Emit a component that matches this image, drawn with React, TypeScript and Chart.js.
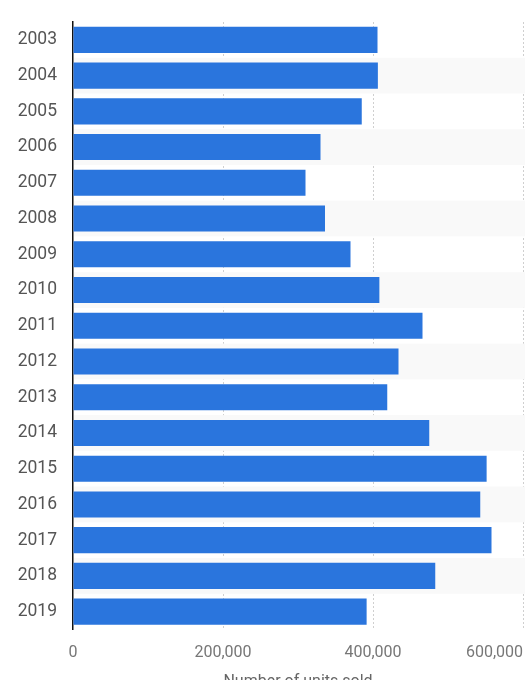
import React, { useEffect, useRef } from "react";
import { Chart, registerables } from "chart.js";

Chart.register(...registerables);

const years = ["2003","2004","2005","2006","2007","2008","2009","2010","2011","2012","2013","2014","2015","2016","2017","2018","2019"];
const unitsSold = [406000, 406500, 385000, 330000, 310000, 336000, 370000, 408500, 466000, 434000, 419000, 475000, 551500, 543000, 558000, 483000, 391500];
const xTicks = [0, 200000, 400000, 600000];
const axisTitle = "Number of units sold";

const W = 517;
const H = 672;

const bandPlugin = {
  id: "bands",
  beforeDatasetsDraw(chart: any) {
    const { ctx, chartArea, scales } = chart;
    const y = scales.y;
    const n = years.length;
    const step = (chartArea.bottom - chartArea.top) / n;
    ctx.save();
    ctx.fillStyle = "#f9f9f9";
    for (let i = 1; i < n; i += 2) {
      const c = y.getPixelForValue(i);
      ctx.fillRect(chartArea.left + 1, c - step / 2, chart.width - chartArea.left, step);
    }
    ctx.restore();
  },
};

const xLabelPlugin = {
  id: "xlabels",
  afterDraw(chart: any) {
    const { ctx, chartArea, scales } = chart;
    const x = scales.x;
    ctx.save();
    ctx.fillStyle = "#777";
    ctx.font = "16px Roboto";
    ctx.textBaseline = "middle";
    xTicks.forEach((v, i) => {
      const px = x.getPixelForValue(v);
      ctx.textAlign = i === xTicks.length - 1 ? "right" : "center";
      ctx.fillText(v.toLocaleString("en-US"), px, chartArea.bottom + 23.5);
    });
    ctx.restore();
  },
};

export default function App() {
  const ref = useRef<HTMLCanvasElement | null>(null);
  useEffect(() => {
    if (!ref.current) return;
    const chart = new Chart(ref.current, {
      type: "bar",
      data: {
        labels: years,
        datasets: [
          {
            data: unitsSold,
            backgroundColor: "#2a75dd",
            borderWidth: 0,
            barPercentage: 0.73,
            categoryPercentage: 1,
          },
        ],
      },
      plugins: [bandPlugin, xLabelPlugin],
      options: {
        indexAxis: "y",
        animation: false,
        responsive: false,
        layout: { padding: { top: 14, right: 2, left: 0, bottom: 0 } },
        plugins: { legend: { display: false }, tooltip: { enabled: false } },
        scales: {
          x: {
            min: 0,
            max: 600000,
            afterBuildTicks: (scale: any) => {
              scale.ticks = xTicks.map((v) => ({ value: v }));
            },
            afterFit: (scale: any) => {
              scale.height = 50.5;
              scale.paddingLeft = 0;
              scale.paddingRight = 0;
              scale.paddingTop = 0;
              scale.paddingBottom = 0;
            },
            grid: {
              drawTicks: false,
              color: (c: any) => (c.tick && c.tick.value === 0 ? "rgba(0,0,0,0)" : "#cfcfcf"),
              lineWidth: 1,
            },
            border: { display: false, dash: [2, 2] },
            ticks: { display: false },
            title: {
              display: true,
              text: axisTitle,
              color: "#666",
              font: { family: "Roboto", size: 16 },
              padding: { top: 0, bottom: -12 },
            },
          },
          y: {
            afterFit: (scale: any) => {
              scale.width = 65;
              scale.paddingLeft = 0;
              scale.paddingRight = 0;
              scale.paddingTop = 0;
              scale.paddingBottom = 0;
            },
            grid: { display: false, drawTicks: false },
            border: { display: true, color: "#111", width: 1.5 },
            ticks: {
              padding: 16,
              color: "#555",
              font: { family: "Roboto", size: 17.5 },
            },
          },
        },
      },
    } as any);
    return () => chart.destroy();
  }, []);
  return (
    <div style={{ position: "fixed", top: 8, left: 8, width: W, height: H }}>
      <canvas ref={ref} width={W} height={H} style={{ width: W, height: H, display: "block" }} />
    </div>
  );
}
